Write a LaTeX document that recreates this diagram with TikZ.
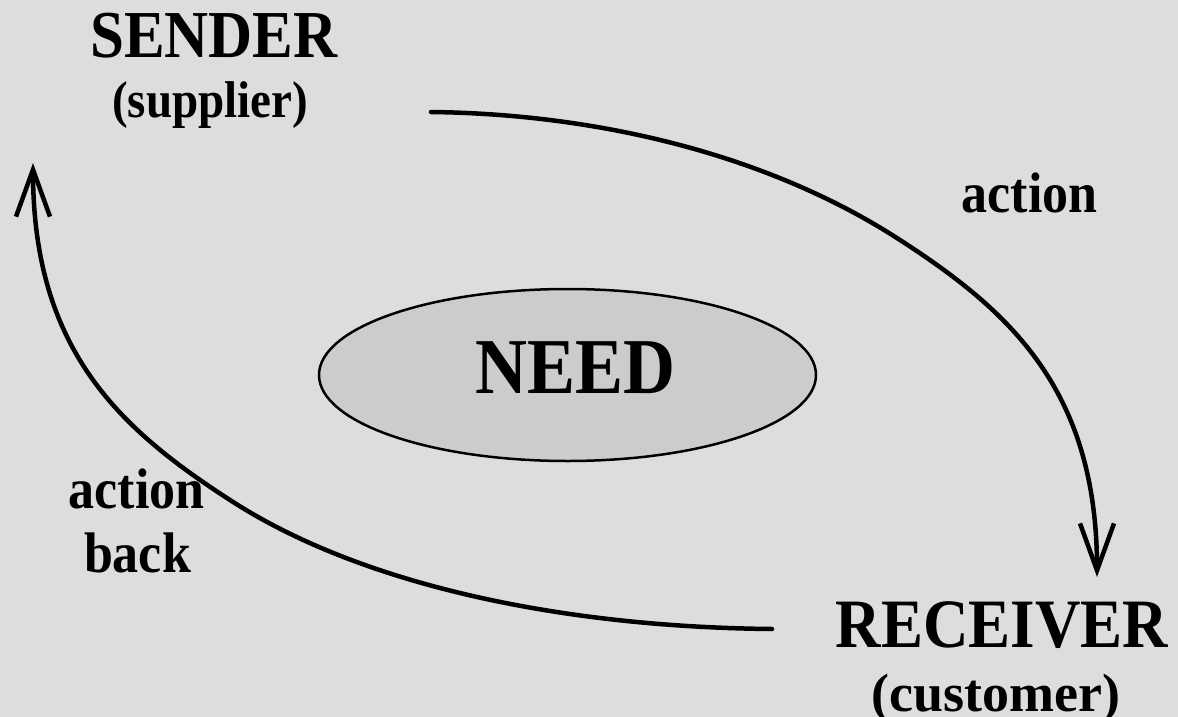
\documentclass[tikz,border=0pt]{standalone}
\usepackage{graphicx}
\usepackage{fontspec}
\setmainfont{Liberation Serif}
\usetikzlibrary{shapes.geometric,arrows.meta}
\definecolor{pagebg}{HTML}{DDDDDD}
\definecolor{needfill}{HTML}{CCCCCC}
\tikzset{
  txt/.style={anchor=base,inner sep=0pt,font=\bfseries},
  flow/.style={line width=4.5pt,line cap=round,-{Straight Barb[length=47pt,width=34pt]}},
}
% bold label, set slightly taller than the font's natural shape
\newcommand{\fsz}[1]{\fontsize{#1}{#1}\selectfont}
\newcommand{\tall}[1]{\scalebox{1}[1.1]{#1}}
\begin{document}
\begin{tikzpicture}[x=1pt,y=-1pt]
  % page background and fixed frame
  \fill[pagebg] (0,0) rectangle (1178,717);
  \useasboundingbox (0,0) rectangle (1178,717);

  % central ellipse
  \node[ellipse,draw,line width=2.5pt,fill=needfill,minimum width=497pt,
        minimum height=172pt,inner sep=0pt] (need) at (567.5,375) {};
  \node[txt,font=\bfseries\fsz{72}] (needtxt) at (575.5,393) {\tall{NEED}};

  % parties
  \node[txt,font=\bfseries\fsz{61}] (sender) at (214,58) {\tall{SENDER}};
  \node[txt,font=\bfseries\fsz{47}] (supplier) at (210,117) {\tall{(supplier)}};
  \node[txt,font=\bfseries\fsz{63}] (receiver) at (1002,647) {\tall{RECEIVER}};
  \node[txt,font=\bfseries\fsz{54}] (customer) at (996,711) {(customer)};

  % arrow labels
  \node[txt,font=\bfseries\fsz{52}] (act) at (1029.5,212) {\tall{action}};
  \node[txt,font=\bfseries\fsz{52}] (actb) at (136.5,508) {\tall{action}};
  \node[txt,font=\bfseries\fsz{52}] (back) at (137.5,572) {\tall{back}};

  % connector ends and waypoints
  \coordinate (a0) at (431,112);
  \coordinate (a1) at (900,240);
  \coordinate (a2) at (1097,577);
  \coordinate (b0) at (772,629);
  \coordinate (b1) at (230,500);
  \coordinate (b2) at (33,163);

  % sender -> receiver
  \draw[flow] (a0) .. controls (600,114) and (770,155.5) .. (a1)
              .. controls (1010,311) and (1097,390) .. (a2);
  % receiver -> sender
  \draw[flow] (b0) .. controls (560,627) and (360,584.5) .. (b1)
              .. controls (120,429) and (33,350) .. (b2);
\end{tikzpicture}
\end{document}
